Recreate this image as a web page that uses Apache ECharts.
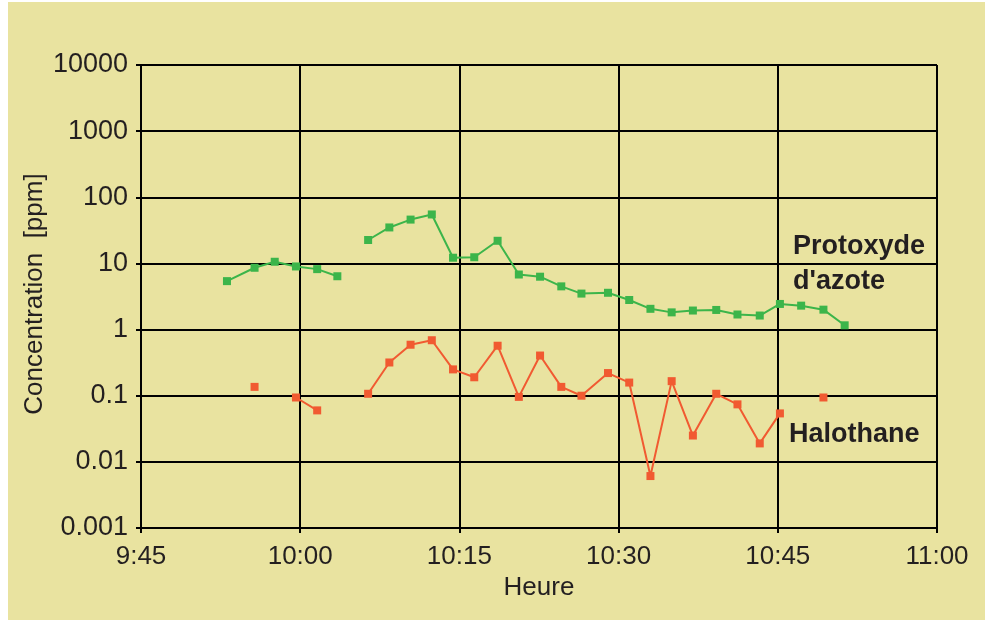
<!DOCTYPE html>
<html>
<head>
<meta charset="utf-8">
<title>Concentration</title>
<script src="https://cdn.jsdelivr.net/npm/echarts@6/dist/echarts.min.js"></script>
<style>
    html, body { margin: 0; padding: 0; background: #fff; }
    #main { width: 994px; height: 621px; }
</style>
</head>
<body>
<div id="main"></div>
<script>
// heures de mesure, en minutes après 9:00
var temps = [53.1, 55.7, 57.6, 59.6, 61.6, 63.5, 65.0, 66.4, 68.4, 70.4, 72.4, 74.4, 76.4, 78.6, 80.6,
    82.6, 84.6, 86.5, 89.0, 91.0, 93.0, 95.0, 97.0, 99.2, 101.2, 103.3, 105.2, 107.2, 109.3, 111.3];
// protoxyde d'azote [ppm]
var protoxyde = [5.4, 8.6, 10.6, 9.0, 8.2, 6.4, null, 22.6, 35, 46, 55, 12.2, 12.4, 22, 6.8,
    6.3, 4.5, 3.5, 3.6, 2.8, 2.06, 1.82, 1.94, 1.98, 1.69, 1.63, 2.44, 2.3, 2.0, 1.16];
// halothane [ppm]
var halothane = [null, 0.136, null, 0.094, 0.06, null, null, 0.107, 0.318, 0.59, 0.69, 0.25, 0.19, 0.57, 0.096,
    0.405, 0.136, 0.1, 0.22, 0.158, 0.0061, 0.166, 0.025, 0.107, 0.074, 0.019, 0.054, null, 0.094, null];
var ticksY = [0.001, 0.01, 0.1, 1, 10, 100, 1000, 10000];

var police = 'Liberation Sans, Arial, Helvetica, sans-serif';
var encre = '#231f20';

function paires(vals) {
    return temps.map(function (t, i) {
        return [t, vals[i]];
    });
}

var chart = echarts.init(document.getElementById('main'));
var option = {
    backgroundColor: '#ffffff',
    animation: false,
    textStyle: {fontFamily: police},
    graphic: [
        {
            type: 'rect', z: -10, silent: true,
            shape: {x: 8, y: 2, width: 977, height: 618},
            style: {fill: '#e9e3a0'}
        },
        {
            // titre de l'axe vertical
            type: 'text', z: 10, x: 35, y: 294, rotation: Math.PI / 2,
            style: {
                text: 'Concentration  [ppm]', font: '26px ' + police, fill: encre,
                align: 'center', verticalAlign: 'middle'
            }
        },
        {
            type: 'text', z: 10, left: 793, top: 229,
            style: {text: 'Protoxyde\nd\'azote', font: 'bold 27px ' + police, fill: encre, lineHeight: 35}
        },
        {
            type: 'text', z: 10, left: 789, top: 421,
            style: {text: 'Halothane', font: 'bold 27px ' + police, fill: encre}
        }
    ],
    grid: {left: 141, right: 57, top: 65, bottom: 93},
    xAxis: {
        type: 'value',
        min: 45,
        max: 120,
        interval: 15,
        name: 'Heure',
        nameLocation: 'middle',
        nameGap: 47,
        nameTextStyle: {fontSize: 26, color: encre, fontFamily: police},
        axisLine: {lineStyle: {color: '#000', width: 2}},
        axisTick: {show: true, length: 5, lineStyle: {color: '#000', width: 2}},
        axisLabel: {
            fontSize: 26, color: encre, margin: 16,
            formatter: function (v) {
                var h = 9 + Math.floor(v / 60);
                var m = v % 60;
                return h + ':' + (m < 10 ? '0' + m : m);
            }
        },
        splitLine: {show: true, lineStyle: {color: '#000', width: 2}}
    },
    yAxis: {
        type: 'log',
        logBase: 10,
        min: ticksY[0],
        max: ticksY[ticksY.length - 1],
        interval: 1,
        axisLine: {show: true, lineStyle: {color: '#000', width: 2}},
        axisTick: {show: true, length: 5, lineStyle: {color: '#000', width: 2}},
        axisLabel: {
            fontSize: 27, color: encre, margin: 13,
            formatter: function (v) {
                return String(+(+v).toPrecision(1));
            }
        },
        splitLine: {show: true, lineStyle: {color: '#000', width: 2}}
    },
    series: [
        {
            name: 'Protoxyde d\'azote',
            type: 'line',
            data: paires(protoxyde),
            connectNulls: false,
            symbol: 'rect',
            symbolSize: 8,
            showAllSymbol: true,
            itemStyle: {color: '#3cb54a'},
            lineStyle: {color: '#3cb54a', width: 2}
        },
        {
            name: 'Halothane',
            type: 'line',
            data: paires(halothane),
            connectNulls: false,
            symbol: 'rect',
            symbolSize: 8,
            showAllSymbol: true,
            itemStyle: {color: '#f15a31'},
            lineStyle: {color: '#f15a31', width: 2}
        }
    ]
};
chart.setOption(option);
</script>
</body>
</html>
